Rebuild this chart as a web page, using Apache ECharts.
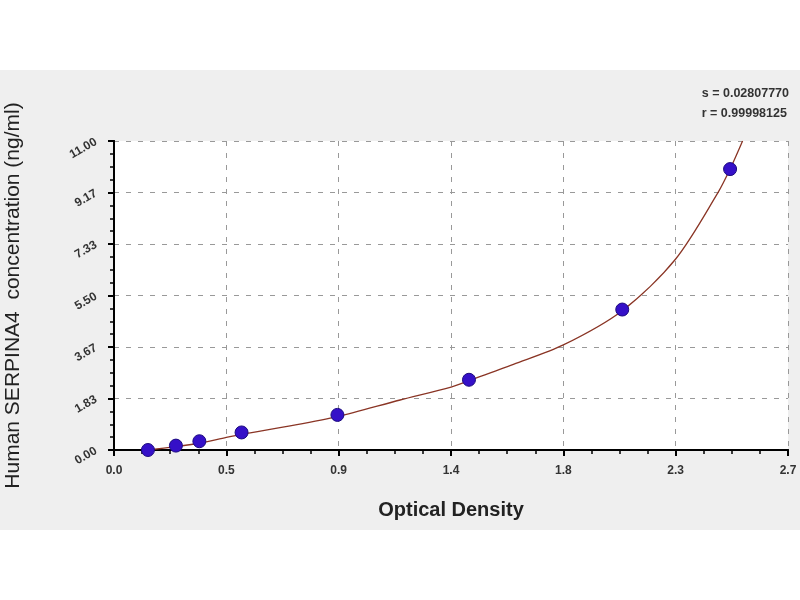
<!DOCTYPE html>
<html>
<head>
<meta charset="utf-8">
<title>SERPINA4 standard curve</title>
<script src="https://cdn.jsdelivr.net/npm/echarts@6/dist/echarts.min.js"></script>
<style>
  html, body { margin: 0; padding: 0; background: #fff; }
  #box { width: 800px; height: 600px; }
</style>
</head>
<body>
<div id="box"></div>
<script>
// standards: optical density vs concentration
var odValues = [0.136, 0.248, 0.342, 0.511, 0.895, 1.422, 2.036, 2.468];
var concValues = [0, 0.156, 0.312, 0.625, 1.25, 2.5, 5, 10];

// fitted curve
var curveOd = [0.136, 0.248, 0.342, 0.45, 0.511, 0.7, 0.895, 1.146, 1.35, 1.422, 1.6, 1.8, 2.036, 2.25, 2.42, 2.468, 2.518];
var curveConc = [0, 0.12, 0.24, 0.45, 0.56, 0.85, 1.19, 1.78, 2.24, 2.47, 3.05, 3.74, 4.96, 6.8, 9.17, 10, 11];

var statLines = ['s = 0.02807770', 'r = 0.99998125'];

var font = '"Liberation Sans", Arial, sans-serif';

var chart = echarts.init(document.getElementById('box'));

var points = odValues.map(function (v, i) { return [v, concValues[i]]; });
var curve = curveOd.map(function (v, i) { return [v, curveConc[i]]; });

// plain axes used only to draw the top and right frame lines
var frameAxis = {
    type: 'value', min: 0, max: 1,
    axisLine: { show: true, lineStyle: { color: '#000', width: 2 } },
    axisTick: { show: false }, axisLabel: { show: false },
    splitLine: { show: false }
};

var option = {
    backgroundColor: '#fff',
    animation: false,
    graphic: [
        {
            type: 'rect', z: -10,
            shape: { x: 0, y: 70, width: 800, height: 460 },
            style: { fill: '#efefef' }
        },
        {
            type: 'text', right: 11, top: 84,
            style: {
                text: statLines.join('\n'),
                fill: '#333', font: 'bold 12.5px ' + font,
                lineHeight: 20, align: 'right'
            }
        }
    ],
    grid: {
        left: 114, top: 141, right: 12, bottom: 150,
        outerBoundsMode: 'none', containLabel: false,
        show: true, backgroundColor: '#fff', borderWidth: 0
    },
    xAxis: [{
        type: 'value', min: 0, max: 2.7, interval: 0.45,
        name: 'Optical Density', nameLocation: 'middle', nameGap: 50,
        nameTextStyle: { fontFamily: font, fontSize: 20, fontWeight: 'bold', color: '#222' },
        axisLine: { onZero: false, lineStyle: { color: '#000', width: 2 } },
        axisTick: { length: 6, lineStyle: { color: '#000', width: 2 } },
        minorTick: { show: true, splitNumber: 4, length: 4, lineStyle: { color: '#000', width: 1.5 } },
        axisLabel: {
            margin: 15, color: '#333', fontFamily: font, fontSize: 12, fontWeight: 'bold',
            formatter: function (v) { return v.toFixed(1); }
        },
        splitLine: { show: true, lineStyle: { color: '#999', type: [5, 7], width: 1 } }
    }, Object.assign({ position: 'top' }, frameAxis)],
    yAxis: [{
        type: 'value', min: 0, max: 11, interval: 11 / 6,
        name: 'Human SERPINA4  concentration (ng/ml)', nameLocation: 'middle', nameGap: 90,
        nameTextStyle: { fontFamily: font, fontSize: 21, color: '#222' },
        axisLine: { show: true, onZero: false, lineStyle: { color: '#000', width: 2 } },
        axisTick: { show: true, length: 6, lineStyle: { color: '#000', width: 2 } },
        minorTick: { show: true, splitNumber: 4, length: 4, lineStyle: { color: '#000', width: 1.5 } },
        axisLabel: {
            margin: 18, rotate: 30, color: '#333', fontFamily: font, fontSize: 12, fontWeight: 'bold',
            formatter: function (v) { return v.toFixed(2); }
        },
        splitLine: { show: true, lineStyle: { color: '#999', type: [5, 7], width: 1 } }
    }, Object.assign({ position: 'right' }, frameAxis)],
    series: [
        {
            name: 'fit', type: 'line', data: curve, smooth: 0.3,
            showSymbol: false, clip: true,
            lineStyle: { color: '#8a3525', width: 1.3 },
            z: 2
        },
        {
            name: 'standards', type: 'scatter', data: points,
            symbol: 'circle', symbolSize: 13,
            itemStyle: { color: '#3510c8', borderColor: '#1c0a80', borderWidth: 1, opacity: 1 },
            z: 3
        }
    ]
};

chart.setOption(option);
</script>
</body>
</html>
